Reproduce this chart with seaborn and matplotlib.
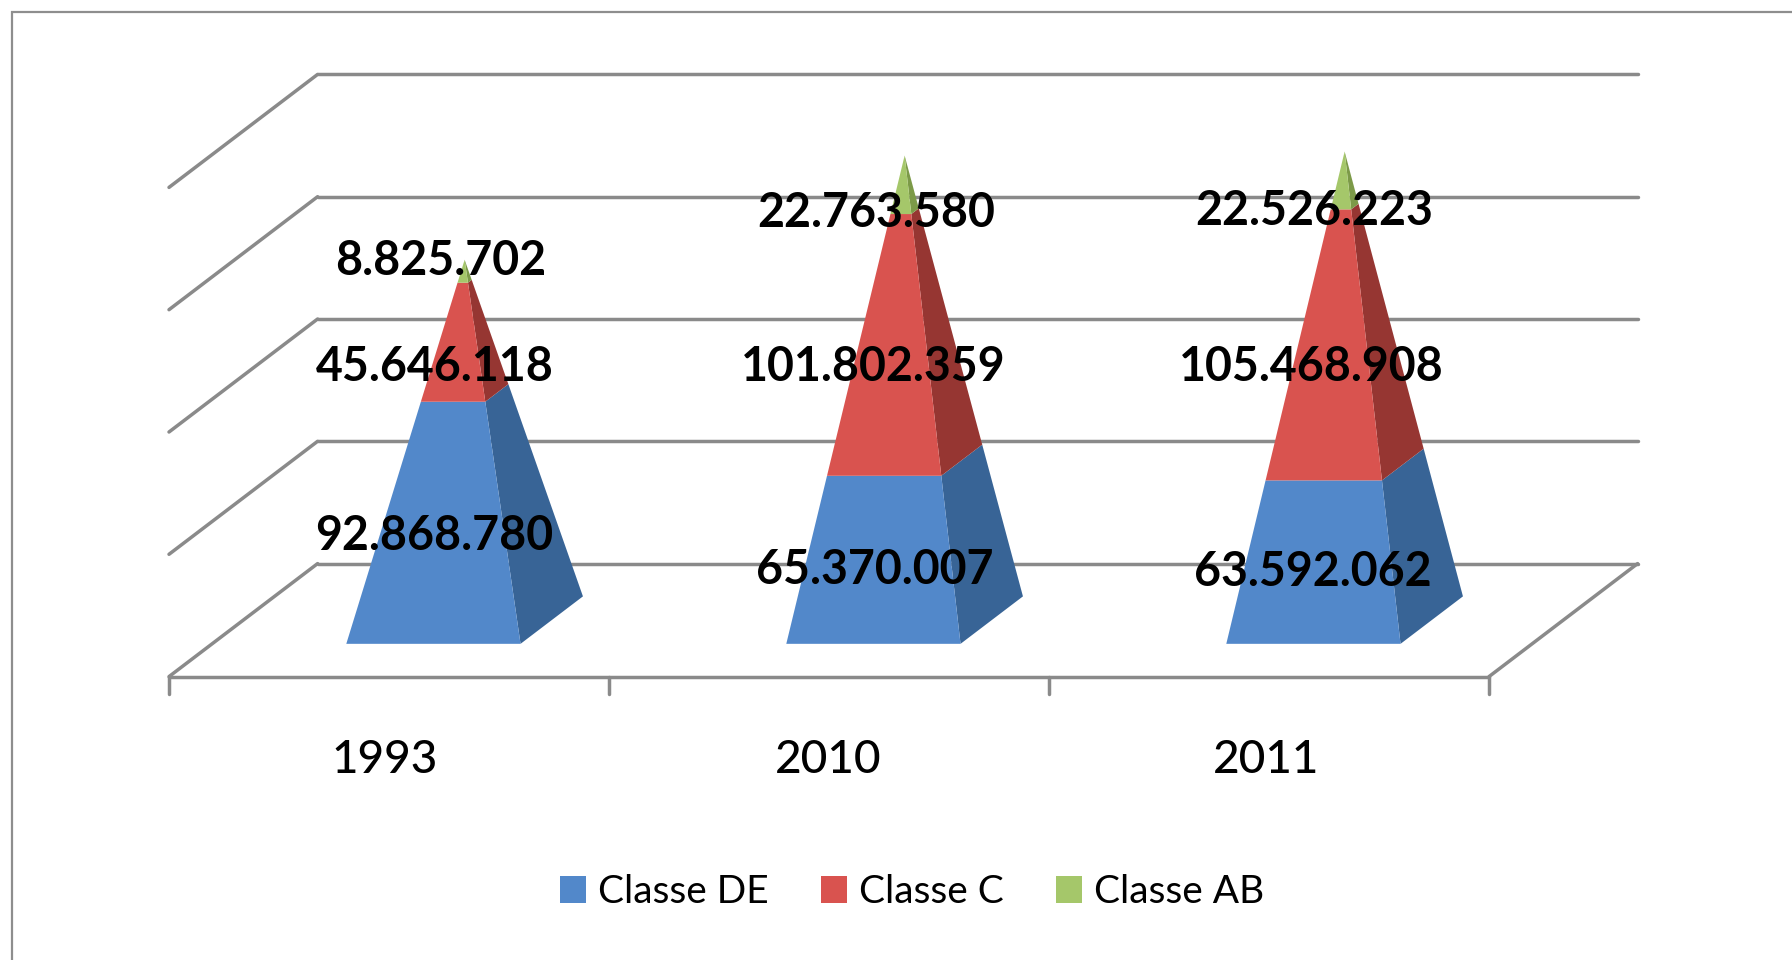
import numpy as np
import pandas as pd
import matplotlib
matplotlib.use("Agg")
import matplotlib.pyplot as plt
from matplotlib.patches import Patch, Rectangle
import seaborn as sns

years = ["1993", "2010", "2011"]
classe_de = [92868780, 65370007, 63592062]
classe_c = [45646118, 101802359, 105468908]
classe_ab = [8825702, 22763580, 22526223]
series_names = ["Classe DE", "Classe C", "Classe AB"]
grid_values = [0, 50e6, 100e6, 150e6, 200e6]

front_colors = ["#5288CA", "#D9534F", "#A5C76A"]
side_colors = ["#386496", "#963632", "#7C9A48"]
grid_color = "#8A8A8A"

W, H = 1792, 960
x0_px, y0_px = 169.0, 676.6     # where the front left floor corner sits
px_per_cat = 440.0
px_per_val = 122.3 / 50e6
depth_x = 148.6 / px_per_cat    # oblique projection of the depth axis
depth_y = 113.0 / px_per_val


def project(x, v, d):
    return x + depth_x * d, v + depth_y * d


def px_x(p):
    return (p - x0_px) / px_per_cat


def px_y(p):
    return (y0_px - p) / px_per_val


sns.set_theme(style="white")
plt.rcParams["font.family"] = ["Lato", "DejaVu Sans"]

fig = plt.figure(figsize=(W / 100, H / 100), dpi=100, facecolor="white")
ax = fig.add_axes([0, 0, 1, 1])
ax.set_xlim(px_x(0), px_x(W))
ax.set_ylim(px_y(H), px_y(0))
ax.axis("off")

# outer frame, only top and left show
fig.add_artist(Rectangle((12 / W, -0.1), 1.2, 1.1 - 12 / H, transform=fig.transFigure,
                         fill=False, ec="#8E8E8E", lw=1.6))

# walls and floor
segs = []
n = len(years)
for g in grid_values:
    segs.append([project(0, g, 0), project(0, g, 1)])
    segs.append([project(0, g, 1), project(n, g, 1)])
segs.append([project(0, 0, 0), project(n, 0, 0)])
segs.append([project(n, 0, 0), project(n, 0, 1)])
for i in range(n + 1):
    segs.append([(i, 0), (i, px_y(y0_px + 17))])
rows = []
for k, s in enumerate(segs):
    for xx, yy in s:
        rows.append({"x": xx, "y": yy, "seg": k})
lines = pd.DataFrame(rows)
sns.lineplot(data=lines, x="x", y="y", units="seg", estimator=None, sort=False,
             color=grid_color, lw=2.5, ax=ax, legend=False, zorder=1)
ax.set_xlim(px_x(0), px_x(W))
ax.set_ylim(px_y(H), px_y(0))
ax.axis("off")

# pyramids
half = 0.198
d_front, d_back = 0.29, 0.71
for i in range(n):
    vals = [classe_de[i], classe_c[i], classe_ab[i]]
    total = sum(vals)
    cx = i + 0.503
    apex = (cx, total, 0.5)
    fl = (cx - half, 0, d_front)
    fr = (cx + half, 0, d_front)
    br = (cx + half, 0, d_back)

    def edge(corner, t):
        return project(*[c + (a - c) * t for c, a in zip(corner, apex)])

    bottom = 0
    for j, v in enumerate(vals):
        t0, t1 = bottom / total, (bottom + v) / total
        front = [edge(fl, t0), edge(fr, t0), edge(fr, t1), edge(fl, t1)]
        side = [edge(fr, t0), edge(br, t0), edge(br, t1), edge(fr, t1)]
        ax.fill(*zip(*side), color=side_colors[j], lw=0, zorder=3)
        ax.fill(*zip(*front), color=front_colors[j], lw=0, zorder=4)
        bottom += v

# value labels
label_x = [[434, 875, 1313], [435, 873, 1311], [441, 876, 1314]]
label_y = [[536, 570, 572], [367, 367, 367], [261, 213, 211]]
for j, values in enumerate([classe_de, classe_c, classe_ab]):
    for i, v in enumerate(values):
        ax.text(px_x(label_x[j][i]), px_y(label_y[j][i]), f"{v:,}".replace(",", "."),
                ha="center", va="center", fontsize=33.5, fontweight="bold",
                color="black", zorder=6)

# category labels
cat_x = [385, 828, 1266]
for i, y in enumerate(years):
    ax.text(px_x(cat_x[i]), px_y(760), y, ha="center", va="center", fontsize=33,
            fontweight="medium", color="black", zorder=6)

handles = [Patch(facecolor=c, edgecolor="none", label=s) for c, s in zip(front_colors, series_names)]
fig.legend(handles=handles, loc="center", bbox_to_anchor=(912 / W, 1 - 892 / H), ncol=3,
           frameon=False, fontsize=28, handlelength=0.68, handleheight=0.68,
           handletextpad=0.30, columnspacing=1.34, labelcolor="black")

fig.savefig("out.png", dpi=100)
